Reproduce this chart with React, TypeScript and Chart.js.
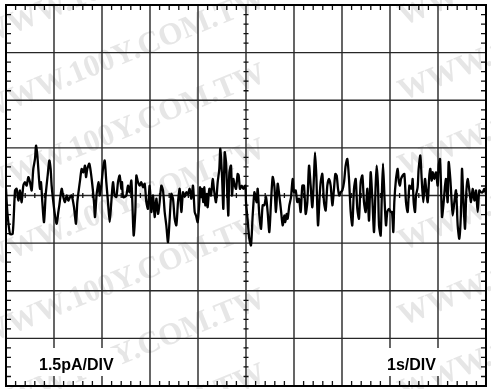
import React, { useEffect, useRef } from "react";
import { Chart, registerables } from "chart.js";

Chart.register(...registerables);

// Time axis (s) and current (pA)
const timeS = [
  0, 0.028, 0.083, 0.139, 0.188, 0.222, 0.257, 0.292, 0.326, 0.361, 0.396, 0.43, 0.465, 0.5, 0.535, 0.569, 0.604, 0.625, 0.653, 0.688,
  0.708, 0.729, 0.757, 0.792, 0.826, 0.868, 0.903, 0.93, 0.951, 0.986, 1.021, 1.056, 1.09, 1.111, 1.16, 1.194, 1.229, 1.264, 1.299, 1.333,
  1.368, 1.417, 1.458, 1.486, 1.528, 1.542, 1.576, 1.611, 1.646, 1.667, 1.694, 1.736, 1.785, 1.833, 1.854, 1.889, 1.931,
  1.951, 1.986, 2.021, 2.056, 2.09, 2.125, 2.16, 2.194, 2.229, 2.264, 2.299, 2.333, 2.368, 2.403, 2.417, 2.438, 2.472, 2.507, 2.542, 2.576,
  2.611, 2.632, 2.66, 2.694, 2.715, 2.75, 2.785, 2.819, 2.854, 2.889, 2.924, 2.958, 2.993, 3.028, 3.063, 3.097, 3.132, 3.167, 3.201, 3.236,
  3.271, 3.306, 3.34, 3.375, 3.41, 3.444, 3.479, 3.514, 3.549, 3.583, 3.618, 3.653, 3.688, 3.722, 3.757, 3.792, 3.826, 3.861, 3.896, 3.931,
  3.958, 3.993, 4.028, 4.042, 4.063, 4.083, 4.111, 4.132, 4.153, 4.181, 4.201, 4.236, 4.271, 4.306, 4.34, 4.375, 4.41, 4.444, 4.465, 4.5,
  4.528, 4.556, 4.583, 4.604, 4.632, 4.653, 4.688, 4.708, 4.736, 4.757, 4.792, 4.826, 4.847, 4.875, 4.91, 4.944, 4.986, 5.0, 5.035, 5.069,
  5.104, 5.139, 5.174, 5.194, 5.222, 5.243, 5.278, 5.313, 5.347, 5.382, 5.417, 5.451, 5.486, 5.521, 5.556, 5.59, 5.625, 5.66, 5.694, 5.729,
  5.764, 5.799, 5.819, 5.847, 5.868, 5.903, 5.938, 5.972,
  6.0, 6.035, 6.069, 6.104, 6.139, 6.174, 6.208, 6.243, 6.278, 6.313, 6.347, 6.382, 6.417, 6.438, 6.465, 6.5, 6.535, 6.556, 6.59, 6.625,
  6.66, 6.694, 6.729, 6.764, 6.799, 6.833, 6.861, 6.889, 6.917, 6.944, 6.972, 7.007, 7.042, 7.076, 7.111, 7.146, 7.181, 7.215, 7.25, 7.285,
  7.319, 7.354, 7.389, 7.424, 7.458, 7.493, 7.528, 7.563, 7.597, 7.632, 7.667, 7.701, 7.722, 7.75, 7.771, 7.806, 7.826, 7.854, 7.889, 7.917,
  7.944, 7.979, 8.014,
  8.042, 8.069, 8.09, 8.125, 8.16, 8.181, 8.208, 8.229, 8.264, 8.299, 8.333, 8.368, 8.403, 8.438, 8.458, 8.472, 8.493, 8.521, 8.542, 8.576,
  8.597, 8.632, 8.66, 8.694, 8.729, 8.75, 8.785, 8.819, 8.84, 8.868, 8.889, 8.924, 8.958, 8.993, 9.014, 9.042, 9.063, 9.083, 9.118, 9.146,
  9.167, 9.201, 9.222, 9.257, 9.285, 9.306, 9.34, 9.375, 9.41, 9.444, 9.479, 9.5, 9.528, 9.563, 9.59, 9.618, 9.653, 9.688, 9.722, 9.757,
  9.792, 9.826, 9.861, 9.896, 9.931, 9.965, 10.0,
];

const currentPA = [
  0.21, -0.52, -1.21, -1.21, 0.16, 0.21, -0.16, 0.16, -0.21, 0.31, 0.42, 0.31, 0.58, 0.42, 0.16, 0.84, 1.15, 1.57, 1.26, 0.52,
  0.21, 0.42, -0.21, -0.84, 0, 0.63, 1.1, 0.84, 0.31, -0.21, -0.63, -0.89, -0.52, -0.31, 0.21, -0.05, -0.21, 0, -0.16, -0.05,
  0, -0.37, -0.89, -0.21, 0.31, 0.47, 0.84, 0.73, 0.94, 0.58, 0.84, 1.0, 0.52, -0.21, -0.68, 0.05, 0.42,
  0, 0.31, 0.84, 1.1, 0.42, -0.21, -0.84, -0.21, 0.42, 0, -0.05, 0.42, 0.63, 0.21, 0.42, -0.05, -0.05, 0, 0.31, 0.1,
  0.47, -0.21, -1.26, -0.52, 0.63, 0.42, 0.31, 0.42, 0.26, 0.37, -0.21, -0.42, 0.31, -0.52, 0, -0.68, -0.1, -0.58, -0.21, 0.31,
  0.16, -0.52, -0.94, -1.47, -0.73, 0.05, -0.1, -0.73, -0.94, -0.21, 0.21, -0.52, 0.1, -0.05, 0.1, 0.05, 0.21, -0.1, 0.31, -0.52,
  -0.63, -0.84, -0.21, 0.26, -0.05, 0.21, -0.21, 0.26, -0.31, 0.05, -0.37, 0.21, 0, 0.52, 0.1, -0.21, 0.42, 0.84, 1.47, 0.63,
  -0.42, 1.36, 1.05, 0.31, -0.63, 0.73, 0.94, 0, 0.52, 0.37, 0.21, 0.68, 0.63, 0.21, 0.31, 0.21, 0.31, -0.21, -0.79, -1.36,
  -1.57, -0.63, 0.1, 0, -0.21, 0.21, -0.63, -1.05, -0.31, -0.31, -0.05, -0.52, -1.15, -0.21, 0.58, 0.31, -0.52, 0.37, 0, -0.47,
  -0.94, -0.63, -0.84, -0.58, -0.73, -0.31, -0.05, 0.52,
  0.1, 0.16, -0.21, -0.1, -0.52, 0.31, 0.31, -0.58, -0.21, 0.94, 0.31, -0.37, 0.63, 1.36, 0.63, -0.94, 0, 0.42, 0.68, -0.21,
  -0.47, 0.31, 0.52, 0.31, -0.31, 0.21, 0.68, 0.63, 0.21, 0, 0.1, 0.16, 0.42, 0.94, 1.15, 0.52, -0.52, -0.94, 0.21, 0.52,
  -0.42, -0.73, 0.42, 0.63, -0.21, -0.52, 0.21, -0.79, 0.73, -0.1, -1.15, 0.31, 0.94, 0.31, -0.94, -1.26, -0.21, 1.0, -0.21, -0.94,
  -0.52, -0.42, -0.52,
  -0.52, -1.15, -0.21, 0.52, 0.84, 0.47, 0.31, 0.52, 0.63, 0.68, -0.21, -0.52, 0.31, 0.21, 0.31, 0.52, -0.21, -0.52, 0, 0.26,
  0.84, 1.26, 0.52, -0.21, 0.52, 0.26, -0.21, 0.63, 0.84, 0.47, 0.73, 0.52, 0.73, 0.31, 0.94, 1.15, 0.31, -0.68, -0.21, 0.31,
  0.52, -0.21, 1.05, 0.52, -0.21, -0.63, -0.21, 0.16, -0.94, -1.36, -0.52, 0.84, -0.1, -1.05, 0.1, 0.52, 0.16, -0.21, 0.21, -0.16,
  0.16, -0.52, 0.16, 0.1, 0.1, 0.21, 0.05,
];

// Major divisions: 1 s/DIV horizontally, 1.5 pA/DIV vertically
const xTicks = [0, 1, 2, 3, 4, 5, 6, 7, 8, 9, 10];
const yTicks = [-6, -4.5, -3, -1.5, 0, 1.5, 3, 4.5, 6];
const minorPerDiv = 5;

const yLabel = "1.5pA/DIV";
const xLabel = "1s/DIV";
const watermarkText = "WWW.100Y.COM.TW";

function minorValues(ticks: number[]) {
  const out: number[] = [];
  for (let i = 0; i < ticks.length - 1; i++) {
    for (let k = 1; k < minorPerDiv; k++) {
      out.push(ticks[i] + (k * (ticks[i + 1] - ticks[i])) / minorPerDiv);
    }
  }
  return out;
}

const scopePlugin = {
  id: "scopeGrid",
  beforeDatasetsDraw(chart: any) {
    const { ctx, chartArea: a, scales } = chart;
    const xs = scales.x;
    const ys = scales.y;
    ctx.save();

    // watermark
    ctx.fillStyle = "#e6e6e6";
    ctx.font = "bold 31px 'Liberation Serif', 'DejaVu Serif', serif";
    ctx.textBaseline = "middle";
    const ang = (-22 * Math.PI) / 180;
    const slope = Math.tan(ang);
    for (let r = -2; r < 8; r++) {
      const y0 = 30 + 75 * r;
      for (let k = 0; k < 3; k++) {
        const sx = -20 + k * 420;
        ctx.save();
        ctx.translate(sx, y0 + slope * sx);
        ctx.rotate(ang);
        ctx.fillText(watermarkText, 0, 0);
        ctx.restore();
      }
    }

    // major grid
    ctx.strokeStyle = "#262626";
    ctx.lineWidth = 1.4;
    ctx.beginPath();
    for (const t of xTicks) {
      const px = xs.getPixelForValue(t);
      ctx.moveTo(px, a.top);
      ctx.lineTo(px, a.bottom);
    }
    for (const t of yTicks) {
      const py = ys.getPixelForValue(t);
      ctx.moveTo(a.left, py);
      ctx.lineTo(a.right, py);
    }
    ctx.stroke();

    // minor ticks
    ctx.strokeStyle = "#111";
    ctx.lineWidth = 1.3;
    ctx.beginPath();
    const cx = xs.getPixelForValue(5);
    const cy = ys.getPixelForValue(0);
    for (const v of minorValues(xTicks)) {
      const px = xs.getPixelForValue(v);
      ctx.moveTo(px, a.top);
      ctx.lineTo(px, a.top + 5);
      ctx.moveTo(px, a.bottom);
      ctx.lineTo(px, a.bottom - 5);
      ctx.moveTo(px, cy - 2.5);
      ctx.lineTo(px, cy + 2.5);
    }
    for (const v of minorValues(yTicks)) {
      const py = ys.getPixelForValue(v);
      ctx.moveTo(a.left, py);
      ctx.lineTo(a.left + 5, py);
      ctx.moveTo(a.right, py);
      ctx.lineTo(a.right - 5, py);
      ctx.moveTo(cx - 2.5, py);
      ctx.lineTo(cx + 2.5, py);
    }
    ctx.stroke();

    // frame
    ctx.strokeStyle = "#000";
    ctx.lineWidth = 2;
    ctx.strokeRect(a.left, a.top, a.right - a.left, a.bottom - a.top);
    ctx.restore();
  },
  afterDatasetsDraw(chart: any) {
    const { ctx, chartArea: a } = chart;
    ctx.save();
    ctx.font = "bold 16px 'Liberation Sans', Arial, sans-serif";
    ctx.textBaseline = "alphabetic";
    const drawLabel = (text: string, x: number, baseline: number) => {
      const w = ctx.measureText(text).width;
      ctx.fillStyle = "#fff";
      ctx.fillRect(x - 4, baseline - 22, w + 8, 28);
      ctx.fillStyle = "#000";
      ctx.fillText(text, x, baseline);
    };
    drawLabel(yLabel, a.left + 33, a.bottom - 16);
    drawLabel(xLabel, a.right - 99, a.bottom - 16);
    ctx.restore();
  },
};

export default function App() {
  const ref = useRef<HTMLCanvasElement | null>(null);

  useEffect(() => {
    document.body.style.margin = "0";
    document.body.style.overflow = "hidden";
    const canvas = ref.current;
    if (!canvas) return;
    const chart = new Chart(canvas, {
      type: "line",
      data: {
        datasets: [
          {
            data: timeS.map((t, i) => ({ x: t, y: currentPA[i] })),
            borderColor: "#000",
            borderWidth: 2.3,
            pointRadius: 0,
            tension: 0.25,
            fill: false,
          },
        ],
      },
      options: {
        animation: false,
        responsive: false,
        maintainAspectRatio: false,
        events: [],
        layout: { padding: { left: 6, right: 5, top: 5, bottom: 3 } },
        plugins: { legend: { display: false }, tooltip: { enabled: false } },
        scales: {
          x: { type: "linear", min: 0, max: 10, display: false },
          y: { type: "linear", min: -6, max: 6, display: false },
        },
      },
      plugins: [scopePlugin],
    });
    return () => chart.destroy();
  }, []);

  return (
    <div style={{ width: 491, height: 389, background: "#fff" }}>
      <canvas ref={ref} width={491} height={389} style={{ display: "block" }} />
    </div>
  );
}
